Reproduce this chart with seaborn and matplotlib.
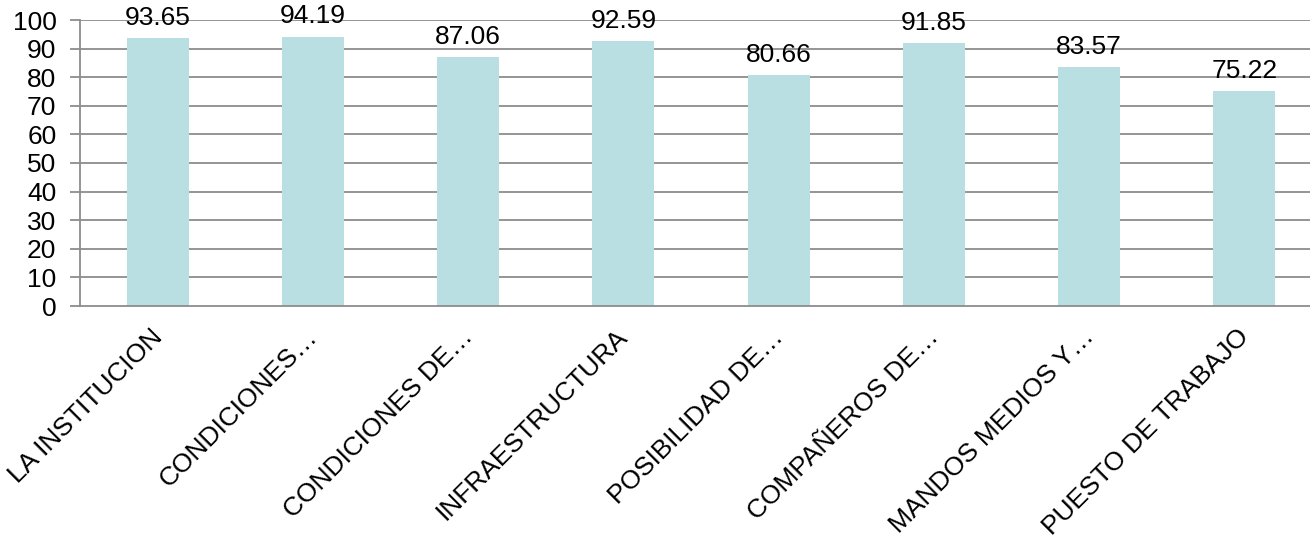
import matplotlib
matplotlib.use("Agg")
import matplotlib.pyplot as plt
import seaborn as sns
import pandas as pd

categories = [
    "LA INSTITUCION",
    "CONDICIONES…",
    "CONDICIONES DE…",
    "INFRAESTRUCTURA",
    "POSIBILIDAD DE…",
    "COMPAÑEROS DE…",
    "MANDOS MEDIOS Y…",
    "PUESTO DE TRABAJO",
]
values = [93.65, 94.19, 87.06, 92.59, 80.66, 91.85, 83.57, 75.22]
y_ticks = list(range(0, 101, 10))

sns.set_theme(style="white")
plt.rcParams["font.family"] = ["Liberation Sans", "DejaVu Sans"]

df = pd.DataFrame({"cat": categories, "val": values})

fig = plt.figure(figsize=(13.1, 5.4), dpi=100)
ax = fig.add_axes([80 / 1310, 1 - 306 / 540, 1242 / 1310, 286 / 540])

grid_c = "#8c8c8c"
fs = 19
sns.barplot(data=df, x="cat", y="val", color="#b9dfe2", saturation=1,
            width=0.4, linewidth=0, ax=ax, zorder=3)

ax.set_ylim(0, 100)
ax.set_xlim(-0.5, len(categories) - 0.5)
ax.set_yticks(y_ticks)
ax.set_yticklabels([str(t) for t in y_ticks], fontsize=fs, color="black")
for t in y_ticks[1:]:
    ax.axhline(t, color=grid_c, lw=1.3, zorder=1)

# category boundary ticks on the x axis
ax.set_xticks([i - 0.5 for i in range(len(categories))], minor=True)
ax.set_xticks(range(len(categories)))
ax.set_xticklabels([])
ax.tick_params(axis="x", which="major", length=0)
ax.tick_params(axis="x", which="minor", length=8, width=1.3, color=grid_c,
               direction="out")
ax.tick_params(axis="y", length=7, width=1.3, color=grid_c, direction="out",
               left=True, pad=10)

# rotated category names, right end hanging under each bar
for i, cat in enumerate(categories):
    ax.annotate(cat, (i, 0), xycoords=("data", "axes fraction"),
                xytext=(-5.5, -13.5), textcoords="offset points",
                rotation=45, rotation_mode="anchor", ha="right", va="top",
                fontsize=fs, color="black", annotation_clip=False)

for s in ["top", "right"]:
    ax.spines[s].set_visible(False)
for s in ["left", "bottom"]:
    ax.spines[s].set_color(grid_c)
    ax.spines[s].set_linewidth(1.3)
    ax.spines[s].set_zorder(4)

for i, v in enumerate(values):
    ax.annotate(f"{v:.2f}", (i, v), xytext=(0, 6), textcoords="offset points",
                ha="center", va="bottom", fontsize=fs, color="black", zorder=5)

ax.set_xlabel("")
ax.set_ylabel("")
fig.savefig("out.png", dpi=100)
